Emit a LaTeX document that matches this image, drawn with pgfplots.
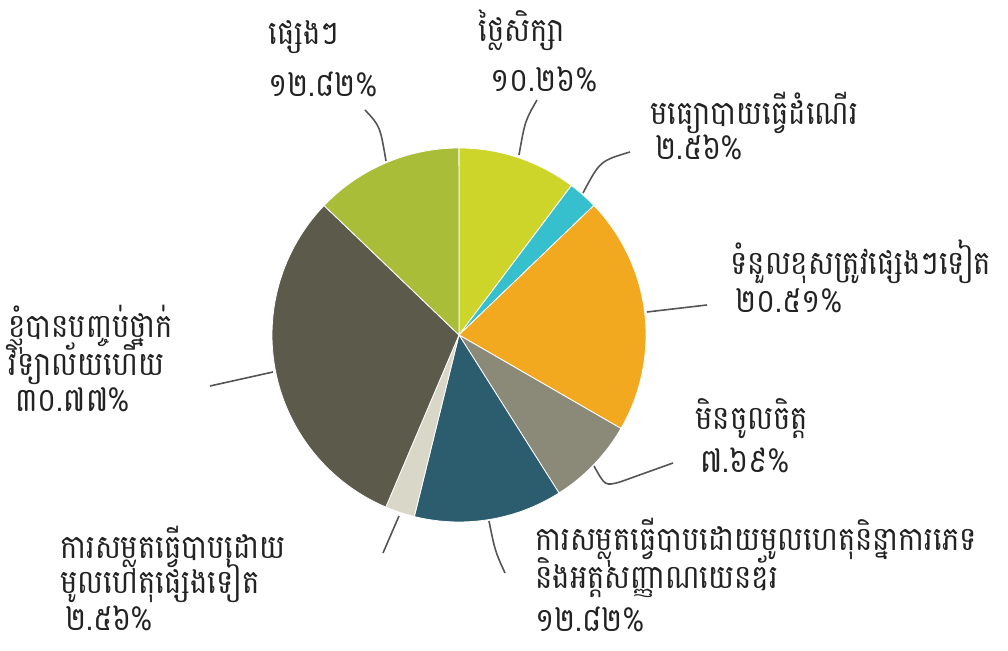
\documentclass[border=0pt]{standalone}
\usepackage{pgfplots}
\pgfplotsset{compat=1.18}
\usepackage{pgfplotstable}
\usepackage{fontspec}
\newfontfamily\khmer[Script=Khmer, FakeStretch=0.88]{Battambang}

\definecolor{cFee}{HTML}{CDD42A}
\definecolor{cTravel}{HTML}{36BFCC}
\definecolor{cResp}{HTML}{F2A91F}
\definecolor{cDislike}{HTML}{8B8A78}
\definecolor{cSogie}{HTML}{2B5D6E}
\definecolor{cBully}{HTML}{D9D8C8}
\definecolor{cGrad}{HTML}{5B5A4B}
\definecolor{cOther}{HTML}{AABD39}
\definecolor{ink}{HTML}{222222}
\definecolor{leader}{HTML}{555555}

% share of answers, clockwise from 12 o'clock
\pgfplotstableread{
value colour
10.26 cFee
2.56  cTravel
20.51 cResp
7.69  cDislike
12.82 cSogie
2.56  cBully
30.77 cGrad
12.82 cOther
}\piedata

\begin{document}
\begin{tikzpicture}[
    lbl/.style={font=\khmer\fontsize{16.5}{20}\selectfont, text=ink, inner sep=0pt, anchor=base west},
    ldr/.style={draw=leader, line width=0.8pt}
]
\useasboundingbox (0,0) rectangle (504pt,325.5pt);
\begin{axis}[
    x=0.5pt, y=0.5pt,
    xmin=0, xmax=1008, ymin=0, ymax=651,
    hide axis, clip=false
]
\pgfmathsetmacro\cum{0}
\pgfplotsforeachungrouped \i in {0,...,7}{%
    \pgfplotstablegetelem{\i}{value}\of\piedata \let\val\pgfplotsretval
    \pgfplotstablegetelem{\i}{colour}\of\piedata \let\col\pgfplotsretval
    \pgfmathsetmacro\angA{90-3.6*\cum}
    \pgfmathsetmacro\cum{\cum+\val}
    \pgfmathsetmacro\angB{90-3.6*\cum}
    \edef\slice{\noexpand\addplot[fill=\col, draw=white, line width=0.4pt,
        domain=\angB:\angA, samples=60]
        ({459+187*cos(x)},{316+187*sin(x)}) -- (axis cs:459,316) -- cycle;}
    \slice
}

% leader lines
\draw[ldr] (axis cs:365,541) .. controls (axis cs:380,525) .. (axis cs:386,490);
\draw[ldr] (axis cs:537,551) .. controls (axis cs:525,530) .. (axis cs:519,496);
\draw[ldr] (axis cs:630,499) .. controls (axis cs:600,490) .. (axis cs:583,458);
\draw[ldr] (axis cs:647,339) -- (axis cs:707,346);
\draw[ldr] (axis cs:594,185) .. controls (axis cs:605,165) .. (axis cs:620,169) -- (axis cs:673,188);
\draw[ldr] (axis cs:489,130) .. controls (axis cs:495,100) .. (axis cs:505,78);
\draw[ldr] (axis cs:399,135) -- (axis cs:383,98);
\draw[ldr] (axis cs:273,279) -- (axis cs:210,265);

% labels
\node[lbl] at (axis cs:268,606) {ផ្សេងៗ};
\node[lbl] at (axis cs:268,554) {១២.៨២\%};
\node[lbl] at (axis cs:478,609) {ថ្លៃសិក្សា};
\node[lbl] at (axis cs:490,559) {១០.២៦\%};
\node[lbl] at (axis cs:650,526) {មធ្យោបាយធ្វើដំណើរ};
\node[lbl] at (axis cs:655,491) {២.៥៦\%};
\node[lbl] at (axis cs:730,376) {ទំនួលខុសត្រូវផ្សេងៗទៀត};
\node[lbl] at (axis cs:735,338) {២០.៥១\%};
\node[lbl] at (axis cs:695,221) {មិនចូលចិត្ត};
\node[lbl] at (axis cs:700,178) {៧.៦៩\%};
\node[lbl] at (axis cs:535,100) {ការសម្លុតធ្វើបាបដោយមូលហេតុនិន្នាការភេទ};
\node[lbl] at (axis cs:535,62) {និងអត្តសញ្ញាណយេនឌ័រ};
\node[lbl] at (axis cs:535,19) {១២.៨២\%};
\node[lbl] at (axis cs:60,92) {ការសម្លុតធ្វើបាបដោយ};
\node[lbl] at (axis cs:60,57) {មូលហេតុផ្សេងទៀត};
\node[lbl] at (axis cs:65,20) {២.៥៦\%};
\node[lbl] at (axis cs:8,313) {ខ្ញុំបានបញ្ចប់ថ្នាក់};
\node[lbl] at (axis cs:8,275) {វិទ្យាល័យហើយ};
\node[lbl] at (axis cs:15,239) {៣០.៧៧\%};
\end{axis}
\end{tikzpicture}
\end{document}
